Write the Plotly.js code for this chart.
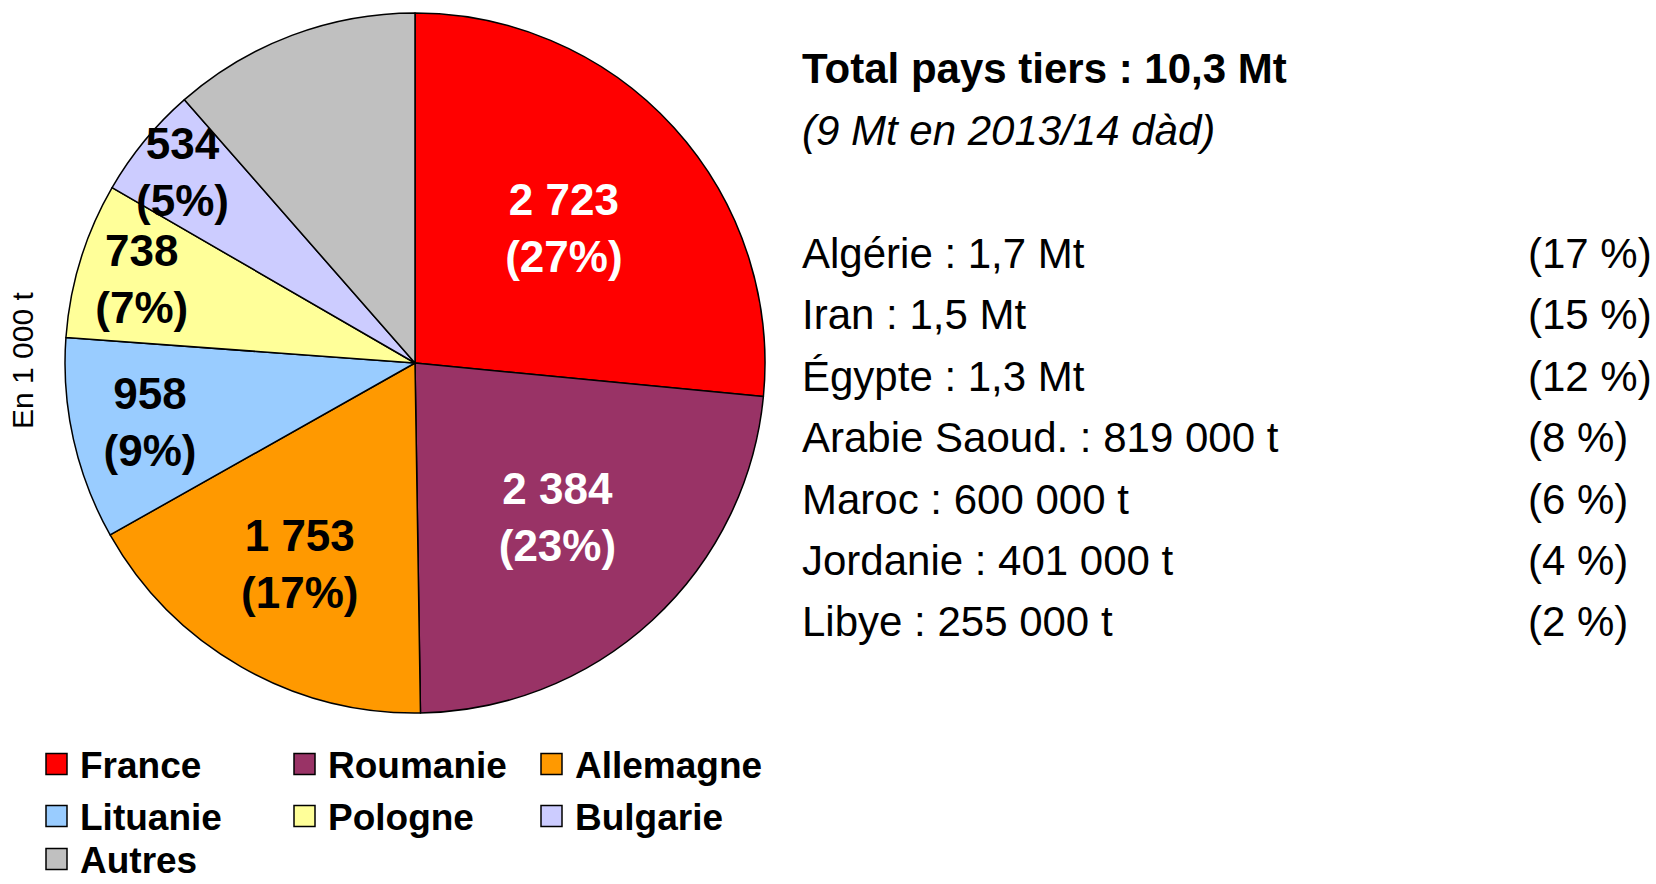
<!DOCTYPE html>
<html>
<head>
<meta charset="utf-8">
<script src="https://cdn.plot.ly/plotly-3.0.1.min.js"></script>
<style>html,body{margin:0;padding:0;background:#fff;}#chart{width:1656px;height:884px;}</style>
</head>
<body>
<div id="chart"></div>
<script>
// ---- data ----
const categories = ['France', 'Roumanie', 'Allemagne', 'Lituanie', 'Pologne', 'Bulgarie', 'Autres'];
const values = [2723, 2384, 1753, 958, 738, 534, 1175];
const colors = ['#FF0000', '#993366', '#FF9900', '#99CCFF', '#FFFF99', '#CCCCFF', '#C0C0C0'];
const labelColors = ['#FFFFFF', '#FFFFFF', '#000000', '#000000', '#000000', '#000000', '#000000'];
const showLabel = [true, true, true, true, true, true, false];

const totalTitle = 'Total pays tiers : 10,3 Mt';
const totalSub = '(9 Mt en 2013/14 dàd)';
const destNames = ['Algérie : 1,7 Mt', 'Iran : 1,5 Mt', 'Égypte : 1,3 Mt', 'Arabie Saoud. : 819 000 t', 'Maroc : 600 000 t', 'Jordanie : 401 000 t', 'Libye : 255 000 t'];
const destShares = ['(17 %)', '(15 %)', '(12 %)', '(8 %)', '(6 %)', '(4 %)', '(2 %)'];
const unitLabel = 'En 1 000 t';

// ---- layout helpers ----
const W = 1656, H = 884;
const px = v => v / W;
const py = v => 1 - v / H;
const FONT = 'Liberation Sans, Arial, sans-serif';

const trace = {
  type: 'pie',
  labels: categories,
  values: values,
  sort: false,
  direction: 'clockwise',
  rotation: 0,
  marker: { colors: colors, line: { color: '#000000', width: 1.5 } },
  texttemplate: showLabel.map(s => s ? '%{value:,}<br>(%{percent:.0%})' : ''),
  textposition: 'inside',
  insidetextorientation: 'horizontal',
  textfont: { family: FONT, size: 44, weight: 'bold', color: labelColors },
  hoverinfo: 'none',
  showlegend: false,
  domain: { x: [px(65), px(765)], y: [py(713), py(13)] }
};

const annotations = [];
const shapes = [];

// custom legend (3 columns)
const legCols = [46, 294, 541];
const legRows = [764, 816, 859];
const sq = 21;
categories.forEach((c, i) => {
  const col = i % 3, row = Math.floor(i / 3);
  const x0 = legCols[col], yc = legRows[row];
  shapes.push({
    type: 'rect', xref: 'paper', yref: 'paper',
    x0: px(x0), x1: px(x0 + sq), y0: py(yc + sq / 2), y1: py(yc - sq / 2),
    fillcolor: colors[i], line: { color: '#000000', width: 1.5 }
  });
  annotations.push({
    xref: 'paper', yref: 'paper', x: px(x0 + 32), y: py(yc + 1),
    xanchor: 'left', yanchor: 'middle', showarrow: false,
    text: '<b>' + c + '</b>',
    font: { family: FONT, size: 37, color: '#000000' }
  });
});

// right-hand text
annotations.push({
  xref: 'paper', yref: 'paper', x: px(800), y: py(69),
  xanchor: 'left', yanchor: 'middle', showarrow: false,
  text: '<b>' + totalTitle + '</b>',
  font: { family: FONT, size: 42, color: '#000000' }
});
annotations.push({
  xref: 'paper', yref: 'paper', x: px(800), y: py(130),
  xanchor: 'left', yanchor: 'middle', showarrow: false,
  text: '<i>' + totalSub + '</i>',
  font: { family: FONT, size: 42, color: '#000000' }
});
destNames.forEach((n, i) => {
  const y = 253.5 + i * 61.4;
  annotations.push({
    xref: 'paper', yref: 'paper', x: px(800), y: py(y),
    xanchor: 'left', yanchor: 'middle', showarrow: false,
    text: n, font: { family: FONT, size: 42, color: '#000000' }
  });
  annotations.push({
    xref: 'paper', yref: 'paper', x: px(1526), y: py(y),
    xanchor: 'left', yanchor: 'middle', showarrow: false,
    text: destShares[i], font: { family: FONT, size: 42, color: '#000000' }
  });
});

// vertical unit label
annotations.push({
  xref: 'paper', yref: 'paper', x: px(22), y: py(361),
  xanchor: 'center', yanchor: 'middle', showarrow: false, textangle: -90,
  text: unitLabel, font: { family: FONT, size: 30, color: '#000000' }
});

const layout = {
  width: W, height: H,
  margin: { l: 0, r: 0, t: 0, b: 0, pad: 0 },
  paper_bgcolor: '#FFFFFF',
  plot_bgcolor: '#FFFFFF',
  separators: ', ',
  showlegend: false,
  uniformtext: { mode: 'show', minsize: 44 },
  annotations: annotations,
  shapes: shapes,
  font: { family: FONT }
};

Plotly.newPlot('chart', [trace], layout, { displayModeBar: false, staticPlot: true });
</script>
</body>
</html>
